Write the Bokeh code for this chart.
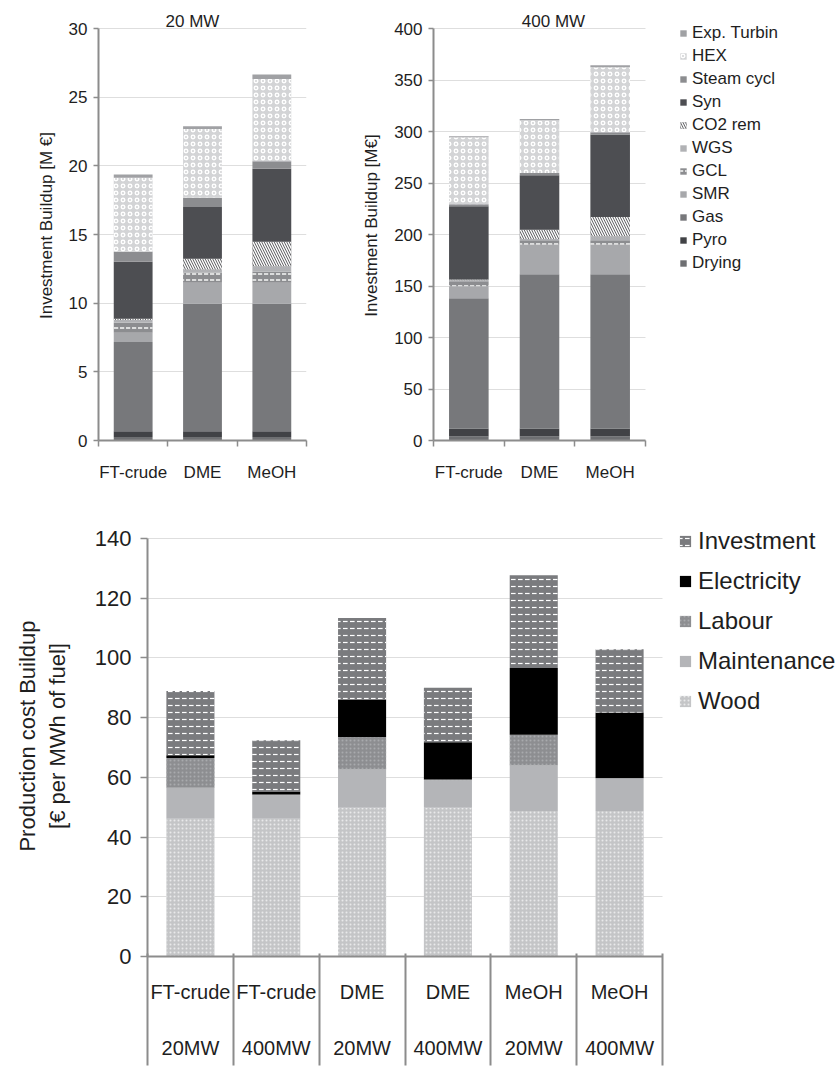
from bokeh.plotting import figure
from bokeh.models import (Range1d, LinearAxis, FixedTicker, Legend,
                          LegendItem, ColumnDataSource, Label)
from bokeh.layouts import column, row
from bokeh.embed import file_html
from bokeh.resources import INLINE

FONT = "Liberation Sans"
AX = "#8c8c8c"
GRID = "#dedede"
TXT = "#1e1e1e"

# ---------------- data: investment buildup (M EUR) ----------------
fuels = ["FT-crude", "DME", "MeOH"]
components = ["Drying", "Pyro", "Gas", "SMR", "GCL", "WGS", "CO2 rem", "Syn",
              "Steam cycl", "HEX", "Exp. Turbin"]

# values per fuel, in the order of `components`
inv20_ft = [0.25, 0.43, 6.50, 0.66, 0.73, 0.20, 0.10, 4.14, 0.73, 5.39, 0.24]
inv20_dme = [0.25, 0.43, 9.27, 1.53, 0.73, 0.24, 0.78, 3.78, 0.66, 5.02, 0.20]
inv20_meoh = [0.25, 0.43, 9.27, 1.53, 0.80, 0.41, 1.78, 5.31, 0.56, 5.99, 0.32]

inv400_ft = [3.9, 7.8, 126.3, 11.7, 4.8, 1.0, 0.7, 71.2, 2.0, 65.0, 1.0]
inv400_dme = [3.9, 7.8, 149.6, 28.8, 4.2, 1.3, 9.1, 52.8, 2.3, 51.1, 1.3]
inv400_meoh = [3.9, 7.8, 149.6, 28.8, 4.2, 3.9, 18.8, 80.0, 2.3, 63.1, 2.0]

# ---------------- data: production cost buildup (EUR/MWh fuel) ----------------
cost_fuels = ["FT-crude", "FT-crude", "DME", "DME", "MeOH", "MeOH"]
cost_sizes = ["20MW", "400MW", "20MW", "400MW", "20MW", "400MW"]
cost_parts = ["Wood", "Maintenance", "Labour", "Electricity", "Investment"]
wood = [46.1, 46.1, 49.8, 49.8, 48.7, 48.7]
maintenance = [10.4, 7.9, 12.8, 9.2, 15.3, 10.8]
labour = [10.0, 0.3, 10.9, 0.3, 10.3, 0.3]
electricity = [0.9, 1.0, 12.6, 12.5, 22.3, 21.9]
investment = [21.5, 17.1, 27.3, 18.2, 31.1, 21.2]

# ---------------- styles ----------------
comp_fill = ["#6e6f72", "#414246", "#77787b", "#a7a8ab", "#8c8d90", "#b1b2b5",
             "#5a5b5e", "#4d4e52", "#8c8d90", "#d3d4d6", "#a0a1a4"]
comp_hatch = [" ", " ", " ", " ", "horizontal_dash", " ", "left_diagonal_line", " ",
              " ", "ring", " "]
comp_hatch_color = ["white"] * len(components)
comp_hatch_scale = [6, 6, 6, 6, 6, 6, 5, 6, 6, 7, 6]

cost_fill = ["#c4c5c7", "#b4b5b8", "#8d8e91", "#000000", "#7a7b7e"]
cost_hatch = ["dot", " ", "dot", " ", "horizontal_dash"]
cost_hatch_color = ["#e9e9ea", "white", "#a9aaad", "white", "white"]
cost_hatch_scale = [4, 6, 4, 6, 7]

# layout geometry (pixels)
TOP_H, TOP_FRAME_TOP, TOP_ZERO, TOP_MAX = 498, 10, 440, 28
BOT_H, BOT_FRAME_TOP, BOT_ZERO, BOT_MAX = 570, 515, 956, 538


def style_y(p, ymax, ticks, fs, tick_out, standoff, label, label_fs, label_standoff,
            n):
    ax = p.yaxis[0]
    ax.ticker = FixedTicker(ticks=ticks)
    ax.bounds = (0, ymax)
    ax.major_tick_out = tick_out
    ax.major_tick_in = 0
    ax.minor_tick_line_color = None
    ax.axis_line_color = AX
    ax.axis_line_width = 2
    ax.major_tick_line_color = AX
    ax.major_tick_line_width = 1.5
    ax.major_label_text_font = FONT
    ax.major_label_text_font_size = fs
    ax.major_label_text_color = TXT
    ax.major_label_standoff = standoff
    ax.axis_label = label
    ax.axis_label_text_font = FONT
    ax.axis_label_text_font_size = label_fs
    ax.axis_label_text_font_style = "normal"
    ax.axis_label_text_color = TXT
    ax.axis_label_standoff = label_standoff
    p.ygrid.grid_line_color = GRID
    p.ygrid.grid_line_width = 1
    p.ygrid.cross_bounds = (0, n)
    p.xgrid.visible = False
    p.outline_line_color = None


def cat_axis(labels, edge_len, edge_width, fs, standoff, with_line):
    n = len(labels)
    centers = [i + 0.5 for i in range(n)]
    edges = list(range(n + 1)) if edge_len > 0 else []
    return LinearAxis(ticker=FixedTicker(ticks=centers, minor_ticks=edges),
                      bounds=(0, n),
                      major_label_overrides={c: t for c, t in zip(centers, labels)},
                      major_tick_out=0, major_tick_in=0, major_tick_line_color=None,
                      minor_tick_out=edge_len, minor_tick_in=0,
                      minor_tick_line_color=AX if edge_len > 0 else None,
                      minor_tick_line_width=edge_width,
                      axis_line_color=AX if with_line else None, axis_line_width=2,
                      major_label_text_font=FONT, major_label_text_font_size=fs,
                      major_label_text_color=TXT, major_label_standoff=standoff)


def top_chart(vals_by_fuel, ymax, step, title, title_dx, ylabel, w, x_end,
              bl, br):
    centers = [i + 0.5 for i in range(len(fuels))]
    data = {"x": centers}
    for i, c in enumerate(components):
        data[c] = [vals[i] for vals in vals_by_fuel]
    src = ColumnDataSource(data)
    y_end = ymax * (TOP_ZERO - TOP_FRAME_TOP) / (TOP_ZERO - TOP_MAX)
    p = figure(x_range=Range1d(0, x_end), y_range=Range1d(0, y_end),
               width=w, height=TOP_H, output_backend="svg", toolbar_location=None,
               x_axis_location=None, min_border_left=bl, min_border_right=br,
               min_border_top=TOP_FRAME_TOP, min_border_bottom=TOP_H - TOP_ZERO)
    rs = p.vbar_stack(components, x="x", width=0.56, source=src,
                      fill_color=comp_fill, line_color=None,
                      hatch_pattern=comp_hatch, hatch_color=comp_hatch_color,
                      hatch_scale=comp_hatch_scale, hatch_weight=1.4)
    p.add_layout(cat_axis(fuels, 6, 1.5, "17px", 16, True), "below")
    style_y(p, ymax, list(range(0, ymax + 1, step)), "17px", 5, 6, ylabel, "17px",
            10, len(fuels))
    p.add_layout(Label(x=len(fuels) / 2, y=ymax, x_offset=title_dx, y_offset=7,
                       text=title, text_align="center", text_baseline="middle",
                       text_font=FONT, text_font_size="17px", text_color=TXT))
    return p, rs


p1, rs1 = top_chart([inv20_ft, inv20_dme, inv20_meoh], 30, 5, "20 MW", -10,
                    "Investment Buildup [M €]", 326, 3, 98, 20)
p2, rs2 = top_chart([inv400_ft, inv400_dme, inv400_meoh], 400, 50, "400 MW", 14,
                    "Investment Buildup [M€]", 514, 3 * (840 - 433) / (645 - 433),
                    107, 0)

items2 = [LegendItem(label=c, renderers=[r]) for c, r in zip(components, rs2)]
items2.reverse()
leg2 = Legend(items=items2, location=(246, 167), padding=0, margin=0,
              spacing=3, label_height=20, glyph_height=8, glyph_width=8,
              label_standoff=5, label_text_font=FONT,
              label_text_font_size="17px", label_text_color=TXT,
              border_line_color=None, background_fill_alpha=0)
p2.add_layout(leg2)

# ---------------- bottom chart ----------------
cost_x = [i + 0.5 for i in range(len(cost_fuels))]
src3 = ColumnDataSource(dict(x=cost_x, Wood=wood, Maintenance=maintenance,
                             Labour=labour, Electricity=electricity,
                             Investment=investment))
n3 = len(cost_fuels)
BOT_BORDER = TOP_H + BOT_H - BOT_ZERO
p3 = figure(x_range=Range1d(0, n3 * (840 - 147) / (662 - 147)),
            y_range=Range1d(0, 140 * (BOT_ZERO - BOT_FRAME_TOP) / (BOT_ZERO - BOT_MAX)),
            width=840, height=BOT_H, output_backend="svg", toolbar_location=None,
            x_axis_location=None, min_border_left=147, min_border_right=0,
            min_border_top=BOT_FRAME_TOP - TOP_H, min_border_bottom=BOT_BORDER)
rs3 = p3.vbar_stack(cost_parts, x="x", width=0.56, source=src3,
                    fill_color=cost_fill, line_color=None,
                    hatch_pattern=cost_hatch, hatch_color=cost_hatch_color,
                    hatch_scale=cost_hatch_scale, hatch_weight=1.2)
# row 1 (fuel) with the axis line, row 2 (size), then the category separators
p3.add_layout(cat_axis(cost_fuels, 0, 2, "20px", 24, True), "below")
p3.add_layout(cat_axis(cost_sizes, 0, 2, "20px", 31, False), "below")
SEP_IN = 108
sep_axis = LinearAxis(ticker=FixedTicker(ticks=[], minor_ticks=list(range(n3 + 1))),
                      bounds=(0, n3), axis_line_color=None,
                      major_tick_line_color=None, major_tick_out=0, major_tick_in=0,
                      major_label_standoff=0,
                      minor_tick_in=SEP_IN, minor_tick_out=BOT_BORDER - SEP_IN,
                      minor_tick_line_color=AX, minor_tick_line_width=2)
p3.add_layout(sep_axis, "below")
style_y(p3, 140, list(range(0, 141, 20)), "22px", 7, 9,
        "Production cost Buildup\n[€ per MWh of fuel]", "22px", 22, n3)

items3 = [LegendItem(label=c, renderers=[r]) for c, r in zip(cost_parts, rs3)]
items3.reverse()
leg3 = Legend(items=items3, location=(531, 237), padding=0, margin=0, spacing=3,
              label_height=37, glyph_height=14, glyph_width=14, label_standoff=6,
              label_text_font=FONT, label_text_font_size="24px",
              label_text_color=TXT, border_line_color=None,
              background_fill_alpha=0)
p3.add_layout(leg3)

layout = column(row(p1, p2), p3)
open("out.html", "w").write(file_html(layout, INLINE))
